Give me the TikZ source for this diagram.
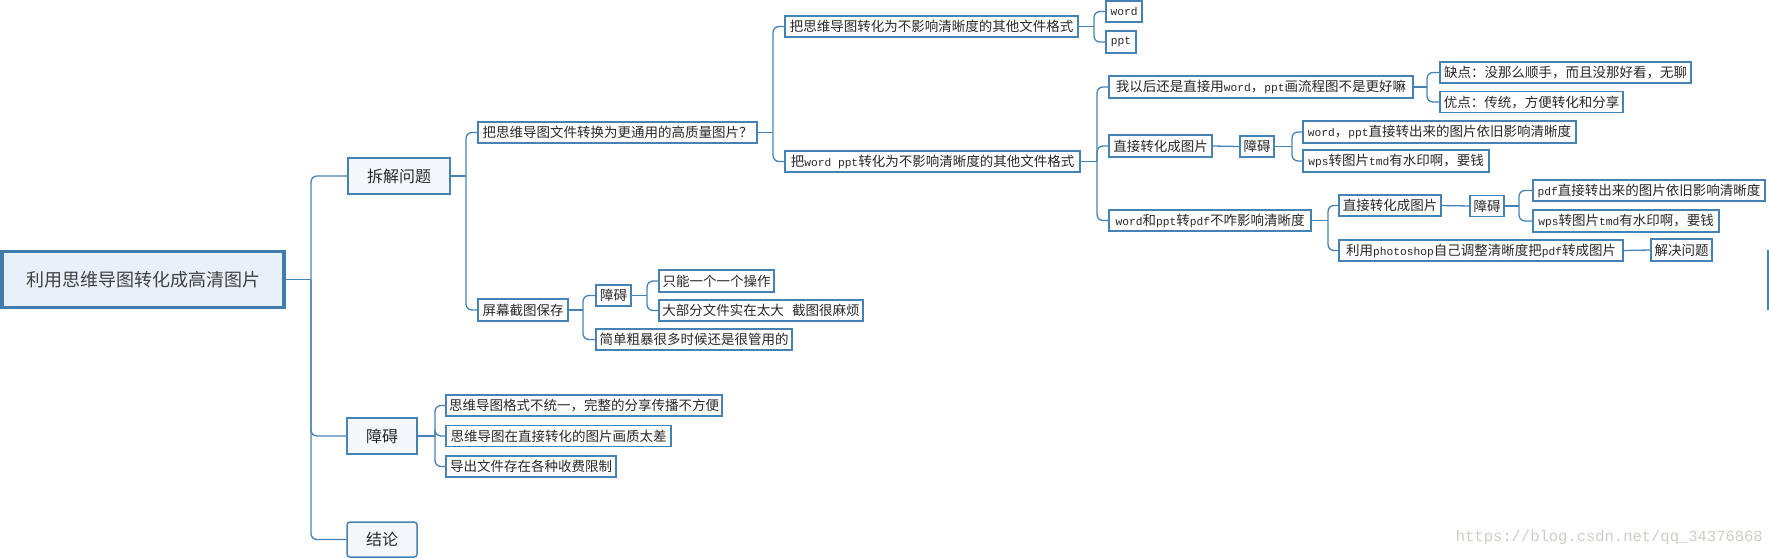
\documentclass[tikz,border=0pt]{standalone}
\usepackage{fontspec}
\setmainfont{Noto Sans CJK SC}
\newfontfamily\lat[Scale=0.833]{Liberation Mono}
\newfontfamily\wmfont{Liberation Mono}
\definecolor{ln}{RGB}{70,130,180}
\definecolor{rootline}{RGB}{66,124,172}
\definecolor{rootfill}{RGB}{232,241,250}
\definecolor{lvfill}{RGB}{244,248,252}
\definecolor{txt}{RGB}{40,40,40}
\definecolor{wmc}{RGB}{208,204,198}
\begin{document}
\begin{tikzpicture}[x=1pt,y=-1pt,
  box/.style={draw=ln, line width=1.3pt, fill=white, inner sep=0pt, text=txt,
    font=\fontsize{13.5}{14}\selectfont},
  lvl/.style={draw=ln, line width=1.5pt, fill=lvfill, inner sep=0pt, text=txt,
    font=\fontsize{16}{18}\selectfont},
  rootbox/.style={draw=rootline, line width=3.5pt, fill=rootfill, inner sep=0pt,
    text=black!75, font=\fontsize{18}{20}\selectfont},
  con/.style={draw=ln, line width=1.3pt, rounded corners=6pt}
]
\useasboundingbox (0,0) rectangle (1769,558);

% root and level 1
\node[rootbox, minimum width=282, minimum height=56] (R) at (143,279.5) {利用思维导图转化成高清图片};
\node[lvl, minimum width=102, minimum height=36] (A) at (399,176) {拆解问题};
\node[lvl, minimum width=70, minimum height=36] (B) at (382,436) {障碍};
\node[lvl, rounded corners=3pt, minimum width=70, minimum height=35] (C) at (382,539.5) {结论};

% under A
\node[box, minimum width=279, minimum height=21] (A1) at (617.5,132.5) {把思维导图文件转换为更通用的高质量图片？};
\node[box, minimum width=90, minimum height=22] (A2) at (523,310) {屏幕截图保存};
\node[box, minimum width=293, minimum height=21] (A11) at (931.5,26.5) {把思维导图转化为不影响清晰度的其他文件格式};
\node[box, minimum width=295, minimum height=21] (A12) at (932.5,161.5) {把{\lat word ppt}转化为不影响清晰度的其他文件格式};
\node[box, minimum width=36, minimum height=21] (W1) at (1124,11.5) {\lat word};
\node[box, minimum width=30, minimum height=22] (W2) at (1121,42) {\lat ppt};

\node[box, minimum width=304, minimum height=22] (P1) at (1261,87) {我以后还是直接用{\lat word}，{\lat ppt}画流程图不是更好嘛};
\node[box, minimum width=103, minimum height=22] (P2) at (1160.5,146) {直接转化成图片};
\node[box, minimum width=202, minimum height=21] (P3) at (1210,220.5) {{\lat word}和{\lat ppt}转{\lat pdf}不咋影响清晰度};

\node[box, minimum width=251, minimum height=21] (P1a) at (1565.5,72.5) {缺点：没那么顺手，而且没那好看，无聊};
\node[box, minimum width=183, minimum height=21] (P1b) at (1531.5,102) {优点：传统，方便转化和分享};

\node[box, minimum width=34, minimum height=21] (P2b) at (1257,146.5) {障碍};
\node[box, minimum width=273, minimum height=22] (P2b1) at (1439.5,132) {{\lat word}，{\lat ppt}直接转出来的图片依旧影响清晰度};
\node[box, minimum width=186, minimum height=22] (P2b2) at (1396,161) {{\lat wps}转图片{\lat tmd}有水印啊，要钱};

\node[box, minimum width=102, minimum height=21] (P31) at (1390,205.5) {直接转化成图片};
\node[box, minimum width=284, minimum height=21] (P32) at (1481,250.5) {利用{\lat photoshop}自己调整清晰度把{\lat pdf}转成图片};
\node[box, minimum width=34, minimum height=21] (P31b) at (1487,206) {障碍};
\node[box, minimum width=232, minimum height=21] (P31b1) at (1649,190.5) {{\lat pdf}直接转出来的图片依旧影响清晰度};
\node[box, minimum width=186, minimum height=22] (P31b2) at (1626,221) {{\lat wps}转图片{\lat tmd}有水印啊，要钱};
\node[box, minimum width=61, minimum height=22] (P32b) at (1681.5,250) {解决问题};

\node[box, minimum width=35, minimum height=21] (A21) at (613.5,295.5) {障碍};
\node[box, minimum width=196, minimum height=21] (A22) at (694,339.5) {简单粗暴很多时候还是很管用的};
\node[box, minimum width=115, minimum height=22] (A21a) at (716.5,281) {只能一个一个操作};
\node[box, minimum width=204, minimum height=21] (A21b) at (761,310.5) {大部分文件实在太大\hspace{0.6em}截图很麻烦};

% under B
\node[box, minimum width=276, minimum height=21] (B1) at (584,405.5) {思维导图格式不统一，完整的分享传播不方便};
\node[box, minimum width=225, minimum height=21] (B2) at (558.5,436) {思维导图在直接转化的图片画质太差};
\node[box, minimum width=170, minimum height=21] (B3) at (531,466.5) {导出文件存在各种收费限制};

% spine coordinates
\coordinate (sR) at (311,279.5);
\coordinate (sA) at (466,176);
\coordinate (sA1) at (773,132.5);
\coordinate (sA11) at (1094,26.5);
\coordinate (sA12) at (1097,161.5);
\coordinate (sP1) at (1427,87);
\coordinate (sP2b) at (1292,146.5);
\coordinate (sP3) at (1328,220.5);
\coordinate (sP31b) at (1519,206);
\coordinate (sA2) at (583,310);
\coordinate (sA21) at (647,295.5);
\coordinate (sB) at (435,436);

% connectors
\draw[con] (R.east) -- (sR);
\draw[con] (sR) |- (A.west);
\draw[con] (sR) |- (B.west);
\draw[con] (sR) |- (C.west);

\draw[con] (A.east) -- (sA);
\draw[con] (sA) |- (A1.west);
\draw[con] (sA) |- (A2.west);

\draw[con] (A1.east) -- (sA1);
\draw[con] (sA1) |- (A11.west);
\draw[con] (sA1) |- (A12.west);

\draw[con] (A11.east) -- (sA11);
\draw[con] (sA11) |- (W1.west);
\draw[con] (sA11) |- (W2.west);

\draw[con] (A12.east) -- (sA12);
\draw[con] (sA12) |- (P1.west);
\draw[con] (sA12) |- (P2.west);
\draw[con] (sA12) |- (P3.west);

\draw[con] (P1.east) -- (sP1);
\draw[con] (sP1) |- (P1a.west);
\draw[con] (sP1) |- (P1b.west);

\draw[con] (P2.east) -- (P2b.west);
\draw[con] (P2b.east) -- (sP2b);
\draw[con] (sP2b) |- (P2b1.west);
\draw[con] (sP2b) |- (P2b2.west);

\draw[con] (P3.east) -- (sP3);
\draw[con] (sP3) |- (P31.west);
\draw[con] (sP3) |- (P32.west);
\draw[con] (P31.east) -- (P31b.west);
\draw[con] (P31b.east) -- (sP31b);
\draw[con] (sP31b) |- (P31b1.west);
\draw[con] (sP31b) |- (P31b2.west);
\draw[con] (P32.east) -- (P32b.west);

\draw[con] (A2.east) -- (sA2);
\draw[con] (sA2) |- (A21.west);
\draw[con] (sA2) |- (A22.west);
\draw[con] (A21.east) -- (sA21);
\draw[con] (sA21) |- (A21a.west);
\draw[con] (sA21) |- (A21b.west);

\draw[con] (B.east) -- (sB);
\draw[con] (sB) |- (B1.west);
\draw[con] (sB) |- (B2.west);
\draw[con] (sB) |- (B3.west);

% edge mark and watermark
\draw[ln, line width=1.6pt] (1768,250) -- (1768,310);
\node[anchor=east, inner sep=0pt, text=wmc, font=\wmfont\fontsize{15.5}{16}\selectfont] (wm) at (1763,537) {https://blog.csdn.net/qq\_34376868};
\end{tikzpicture}
\end{document}
